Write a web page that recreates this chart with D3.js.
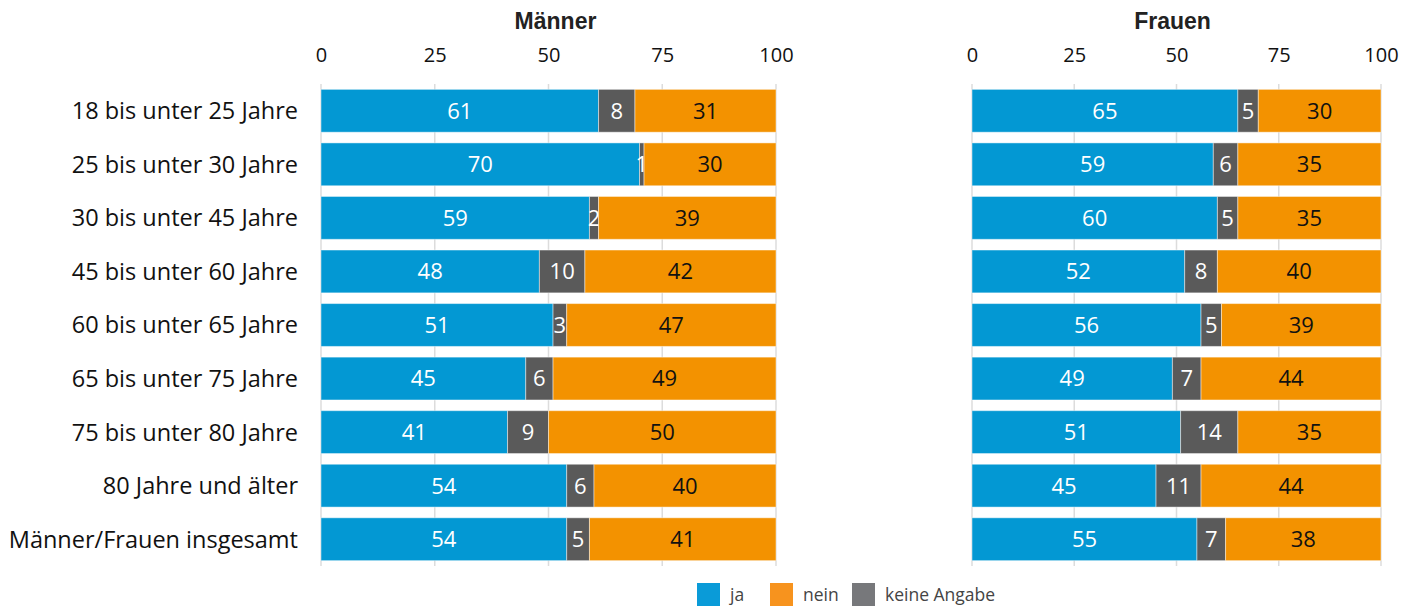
<!DOCTYPE html>
<html>
<head>
<meta charset="utf-8">
<script src="https://cdn.jsdelivr.net/npm/d3@7"></script>
<style>
  body { margin: 0; background: #fff; }
  text { font-family: "Open Sans", "Noto Sans", sans-serif; }
</style>
</head>
<body>
<div class="chart"></div>
<script>
const categories = [
    '18 bis unter 25 Jahre',
    '25 bis unter 30 Jahre',
    '30 bis unter 45 Jahre',
    '45 bis unter 60 Jahre',
    '60 bis unter 65 Jahre',
    '65 bis unter 75 Jahre',
    '75 bis unter 80 Jahre',
    '80 Jahre und älter',
    'Männer/Frauen insgesamt'
];

const maennerJa = [61, 70, 59, 48, 51, 45, 41, 54, 54];
const maennerKeine = [8, 1, 2, 10, 3, 6, 9, 6, 5];
const maennerNein = [31, 30, 39, 42, 47, 49, 50, 40, 41];

const frauenJa = [65, 59, 60, 52, 56, 49, 51, 45, 55];
const frauenKeine = [5, 6, 5, 8, 5, 7, 14, 11, 7];
const frauenNein = [30, 35, 35, 40, 39, 44, 35, 44, 38];

const tickValues = [0, 25, 50, 75, 100];
const seriesKeys = ['ja', 'keine', 'nein'];

const barColors = {ja: '#0398d3', keine: '#5a5a5a', nein: '#f39200'};
const labelColors = {ja: '#fff', keine: '#fff', nein: '#111'};
const legendItems = [
    {label: 'ja', color: '#0a9bd8'},
    {label: 'nein', color: '#f7931e'},
    {label: 'keine Angabe', color: '#77787b'}
];

const outerWidth = 1415;
const outerHeight = 607;

const svg = d3.select('.chart').append('svg')
    .attr('width', outerWidth)
    .attr('height', outerHeight);

const y = d3.scaleBand()
    .domain(categories)
    .range([84, 566])
    .paddingInner(0.2)
    .paddingOuter(0.1);

function buildRows(ja, keine, nein) {
    return categories.map((c, i) => ({cat: c, ja: ja[i], keine: keine[i], nein: nein[i]}));
}

function drawPanel(title, rows, x0, x1, titleShift) {
    // rounded shares can add up to 101, so clamp at 100
    const x = d3.scaleLinear().domain([0, 100]).range([x0, x1]).clamp(true);
    const g = svg.append('g');

    // gridlines
    g.selectAll('line.grid')
        .data(tickValues)
        .join('line')
        .attr('class', 'grid')
        .attr('x1', d => x(d))
        .attr('x2', d => x(d))
        .attr('y1', 84)
        .attr('y2', 566)
        .attr('stroke', '#dcdcdc')
        .attr('stroke-width', 1.5);

    // top axis labels
    const axis = d3.axisTop(x).tickValues(tickValues).tickSize(0).tickPadding(0);
    const ga = g.append('g')
        .attr('transform', 'translate(0, 62)')
        .call(axis);
    ga.select('.domain').remove();
    ga.selectAll('text')
        .attr('font-size', 20)
        .attr('fill', '#111')
        .style('font-family', '"Open Sans", sans-serif');

    // title
    g.append('text')
        .attr('x', (x0 + x1) / 2 + titleShift)
        .attr('y', 29)
        .attr('text-anchor', 'middle')
        .attr('font-size', 23)
        .attr('font-weight', 'bold')
        .attr('fill', '#222')
        .style('font-family', '"Liberation Sans", Arial, sans-serif')
        .text(title);

    const stacked = d3.stack().keys(seriesKeys)(rows);

    stacked.forEach(layer => {
        const key = layer.key;
        const lg = g.append('g');
        lg.selectAll('rect')
            .data(layer)
            .join('rect')
            .attr('x', d => x(d[0]))
            .attr('y', d => y(d.data.cat))
            .attr('width', d => x(d[1]) - x(d[0]))
            .attr('height', y.bandwidth())
            .attr('fill', barColors[key])
            .attr('stroke', 'rgba(255,255,255,0.45)')
            .attr('stroke-width', 1);
        lg.selectAll('text')
            .data(layer)
            .join('text')
            .attr('x', d => (x(d[0]) + x(d[1])) / 2)
            .attr('y', d => y(d.data.cat) + y.bandwidth() / 2)
            .attr('dy', '0.36em')
            .attr('text-anchor', 'middle')
            .attr('font-size', 22)
            .attr('fill', labelColors[key])
            .text(d => d.data[key]);
    });
}

drawPanel('Männer', buildRows(maennerJa, maennerKeine, maennerNein), 321, 776, 7);
drawPanel('Frauen', buildRows(frauenJa, frauenKeine, frauenNein), 972, 1381, -4);

// category labels
svg.append('g')
    .selectAll('text')
    .data(categories)
    .join('text')
    .attr('x', 298)
    .attr('y', d => y(d) + y.bandwidth() / 2)
    .attr('dy', '0.36em')
    .attr('text-anchor', 'end')
    .attr('font-size', 23.5)
    .attr('fill', '#111')
    .text(d => d);

// legend
const legendX = [697, 770, 852];
const legend = svg.append('g')
    .selectAll('g')
    .data(legendItems)
    .join('g')
    .attr('transform', (d, i) => `translate(${legendX[i]}, 583)`);
legend.append('rect')
    .attr('width', 23)
    .attr('height', 23)
    .attr('fill', d => d.color);
legend.append('text')
    .attr('x', 33)
    .attr('y', 12)
    .attr('dy', '0.36em')
    .attr('font-size', 17.5)
    .attr('fill', '#444')
    .text(d => d.label);
</script>
</body>
</html>
